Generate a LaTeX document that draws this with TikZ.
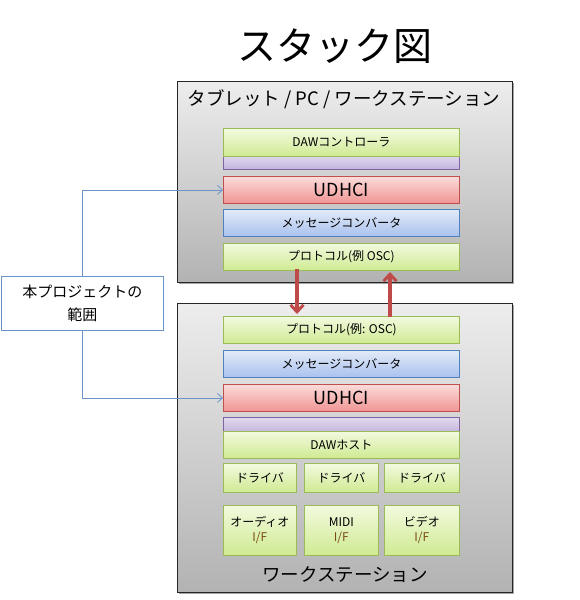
\documentclass[tikz,border=0pt]{standalone}
\usepackage{fontspec}
\setmainfont{Noto Sans CJK JP}
\usetikzlibrary{arrows.meta}
\definecolor{grnB}{HTML}{9BBB59}
\definecolor{grnT}{HTML}{F2FADF}
\definecolor{grnD}{HTML}{CFEA92}
\definecolor{redB}{HTML}{C0504D}
\definecolor{redT}{HTML}{FADCDB}
\definecolor{redD}{HTML}{F09593}
\definecolor{bluB}{HTML}{4F81BD}
\definecolor{bluT}{HTML}{E2EAF8}
\definecolor{bluD}{HTML}{A9C2EE}
\definecolor{purB}{HTML}{8064A2}
\definecolor{purT}{HTML}{E2DAEE}
\definecolor{purD}{HTML}{C2B2DC}
\definecolor{arrR}{HTML}{BE4B48}
\definecolor{ifc}{HTML}{7A4A10}
\definecolor{lnB}{HTML}{6A93C8}
\tikzset{
  px/.style={x=1pt,y=-1pt},
  outerbox/.style={draw=black!85,line width=0.9pt,top color=black!7,bottom color=black!30},
  boxshadow/.style={fill=black!35},
  lay/.style={draw,line width=0.8pt,inner sep=0pt,anchor=north west,font=\fontsize{12}{14}\selectfont},
  grn/.style={lay,draw=grnB,top color=grnT,bottom color=grnD},
  red/.style={lay,draw=redB,top color=redT,bottom color=redD,font=\fontsize{18}{20}\selectfont},
  blu/.style={lay,draw=bluB,top color=bluT,bottom color=bluD},
  pur/.style={lay,draw=purB,top color=purT,bottom color=purD},
  scopearrow/.style={draw=lnB,line width=0.8pt,-{Straight Barb[length=5pt,width=9pt]}},
  bigarrow/.style={draw=arrR,line width=3.5pt,-{Straight Barb[length=7pt,width=13pt,line width=3pt]}},
}
\begin{document}
\begin{tikzpicture}[px]
\useasboundingbox (0,0) rectangle (580,600);
\node (title) at (335,46) {\fontsize{39}{41}\selectfont スタック図};
% top box
\fill[boxshadow] (179,83) rectangle (514,284);
\path[outerbox] (177,81) rectangle (512,282);
\node (toptitle) at (344,99) {\fontsize{18.5}{20}\selectfont タブレット / PC / ワークステーション};
\node[pur,minimum width=236pt,minimum height=14pt] (p1) at (223,155) {};
\node[grn,minimum width=236pt,minimum height=28pt] (t1) at (223,128) {DAWコントローラ};
\node[red,minimum width=236pt,minimum height=27pt] (t2) at (223,176) {UDHCI};
\node[blu,minimum width=236pt,minimum height=27pt] (t3) at (223,209) {メッセージコンバータ};
\node[grn,minimum width=236pt,minimum height=27pt] (t4) at (223,243) {プロトコル(例 OSC)};
% bottom box
\fill[boxshadow] (179,305) rectangle (514,594);
\path[outerbox] (177,303) rectangle (512,592);
\node (bottitle) at (345,575) {\fontsize{18.5}{20}\selectfont ワークステーション};
\node[grn,minimum width=236pt,minimum height=27pt] (b1) at (223,316) {プロトコル(例: OSC)};
\node[blu,minimum width=236pt,minimum height=27pt] (b2) at (223,350) {メッセージコンバータ};
\node[red,minimum width=236pt,minimum height=27pt] (b3) at (223,384) {UDHCI};
\node[pur,minimum width=236pt,minimum height=16pt] (b4) at (223,417) {};
\node[grn,minimum width=236pt,minimum height=27pt] (b5) at (223,431) {DAWホスト};
\node[grn,minimum width=73pt,minimum height=29pt] (d1) at (223,463) {ドライバ};
\node[grn,minimum width=74pt,minimum height=29pt] (d2) at (304,463) {ドライバ};
\node[grn,minimum width=75pt,minimum height=29pt] (d3) at (384,463) {ドライバ};
\node[grn,minimum width=73pt,minimum height=50pt,align=center] (i1) at (223,505) {オーディオ\\[1pt]\textcolor{ifc}{I/F}};
\node[grn,minimum width=74pt,minimum height=50pt,align=center] (i2) at (304,505) {MIDI\\[1pt]\textcolor{ifc}{I/F}};
\node[grn,minimum width=75pt,minimum height=50pt,align=center] (i3) at (384,505) {ビデオ\\[1pt]\textcolor{ifc}{I/F}};
% red arrows
\coordinate (a1s) at (297,269);
\coordinate (a1e) at (297,314);
\coordinate (a2s) at (390,317);
\coordinate (a2e) at (390,272);
\draw[bigarrow] (a1s) -- (a1e);
\draw[bigarrow] (a2s) -- (a2e);
% scope
\node[draw=lnB,line width=0.8pt,fill=white,minimum width=162pt,minimum height=54pt,anchor=north west,align=center,inner sep=0pt,font=\fontsize{15}{23}\selectfont] (scope) at (1,276) {本プロジェクトの\\範囲};
\draw[scopearrow] (scope.north -| 82,0) |- (t2.west);
\draw[scopearrow] (scope.south -| 82,0) |- (b3.west);
\end{tikzpicture}
\end{document}
